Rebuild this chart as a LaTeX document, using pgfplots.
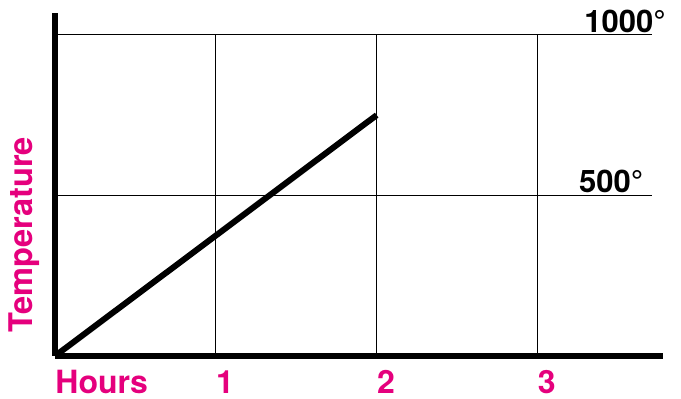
\documentclass[border=0pt]{standalone}
\usepackage{fontspec}
\setmainfont{TeX Gyre Heros}
\usepackage{pgfplots}
\pgfplotsset{compat=1.18}
\definecolor{mag}{HTML}{E5007D}

\begin{document}
\begin{tikzpicture}[
  lab/.style={anchor=base west, inner sep=0, text=mag, font=\fontsize{16}{19}\selectfont\bfseries},
  deg/.style={anchor=base east, inner sep=0, font=\fontsize{15.5}{18}\selectfont\bfseries},
]
\begin{axis}[
  scale only axis, width=304pt, height=171.5pt,
  xmin=0, xmax=3.78, ymin=0, ymax=1068,
  axis x line=bottom, axis y line=left,
  axis line style={line width=2.8pt,-},
  xtick=\empty, ytick=\empty,
  clip=false,
]
% page frame (reference margins)
\path (axis cs:0,0) ++(-27.5pt,-21.5pt) rectangle ++(340.5pt,199.5pt);
% grid
\draw[line width=0.55pt] (axis cs:0,500) -- (axis cs:3.71,500);
\draw[line width=0.55pt] (axis cs:0,1000) -- (axis cs:3.71,1000);
\draw[line width=0.55pt] (axis cs:1,0) -- (axis cs:1,1000);
\draw[line width=0.55pt] (axis cs:2,0) -- (axis cs:2,1000);
\draw[line width=0.55pt] (axis cs:3,0) -- (axis cs:3,1000);
% data
\addplot[line width=3pt, black] coordinates {(0,0) (2,750)};
% labels
\node[lab] at ([yshift=-19pt]axis cs:0,0) {Hours};
\node[lab] at ([yshift=-19pt]axis cs:1,0) {1};
\node[lab] at ([yshift=-19pt]axis cs:2,0) {2};
\node[lab] at ([yshift=-19pt]axis cs:3,0) {3};
\node[lab, rotate=90, font=\fontsize{16.3}{19}\selectfont\bfseries]
  at ([shift={(-11pt,11.5pt)}]axis cs:0,0) {Temperature};
\node[deg] at ([yshift=1pt]axis cs:3.80,1000) {1000°};
\node[deg] at ([yshift=1.5pt]axis cs:3.66,500) {500°};
\end{axis}
\end{tikzpicture}
\end{document}
